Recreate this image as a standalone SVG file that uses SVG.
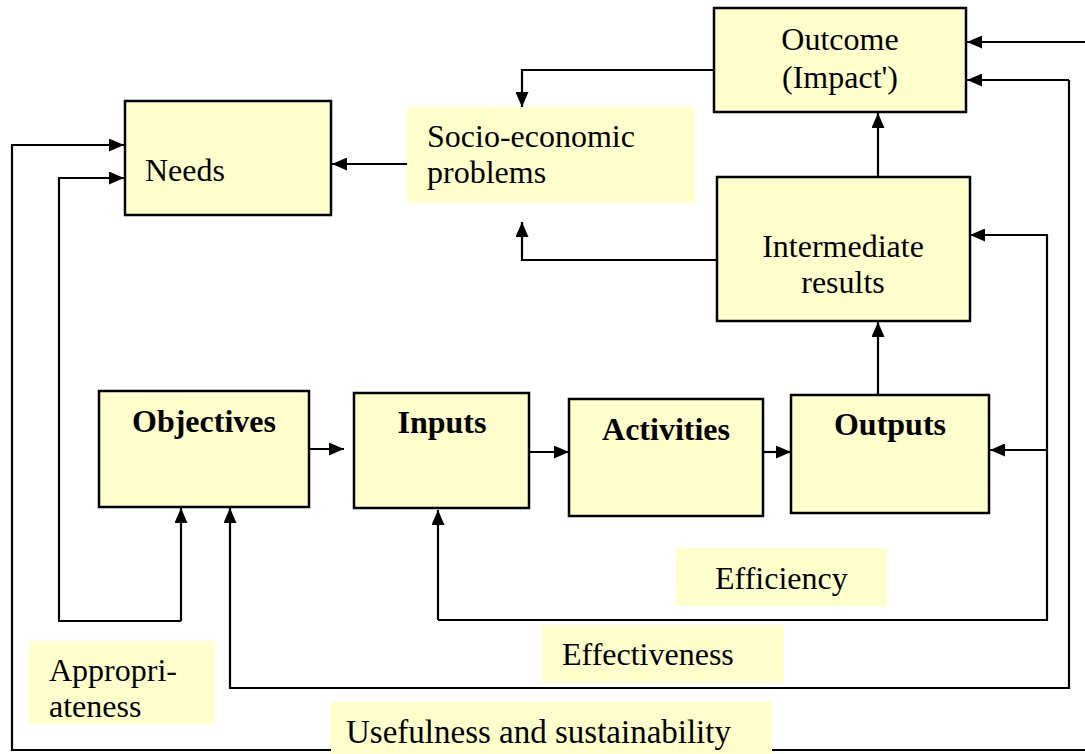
<svg xmlns="http://www.w3.org/2000/svg" width="1085" height="754" viewBox="0 0 1085 754">
  <style>
    .box { fill: #FFFFCC; stroke: #000; stroke-width: 2.5; }
    .label { fill: #FFFFCC; stroke: none; }
    .arrow { fill: none; stroke: #000; stroke-width: 2.2; marker-end: url(#head); }
    text { font-family: "Liberation Serif", "Times New Roman", Times, serif; font-size: 32px; fill: #000; }
    .bold { font-weight: bold; }
    .mid { text-anchor: middle; }
  </style>
  <defs>
    <marker id="head" markerUnits="userSpaceOnUse" markerWidth="15" markerHeight="13" refX="15" refY="6.5" orient="auto">
      <path d="M0,0 L15,6.5 L0,13 z" fill="#000"/>
    </marker>
  </defs>
  <rect width="1085" height="754" fill="#fff"/>

  <!-- connectors -->
  <g id="connectors">
    <!-- outer loop: usefulness and sustainability -->
    <path class="arrow" d="M1085,42 H967"/>
    <path class="arrow" d="M1085,750 H12 V145 H124"/>
    <!-- effectiveness (objectives) loop -->
    <path class="arrow" d="M1069,80 H967"/>
    <path class="arrow" d="M1069,80 V688 H230 V508"/>
    <!-- appropriateness loop -->
    <path class="arrow" d="M181,621 V508"/>
    <path class="arrow" d="M181,621 H59 V178 H124"/>
    <!-- efficiency loop -->
    <path class="arrow" d="M438,620 V510"/>
    <path class="arrow" d="M438,620 H1047 V235 H970"/>
    <path class="arrow" d="M1047,450 H990"/>
    <!-- upper chain -->
    <path class="arrow" d="M714,70 H522 V107"/>
    <path class="arrow" d="M717,260 H522 V222"/>
    <path class="arrow" d="M878,177 V113"/>
    <path class="arrow" d="M878,395 V322"/>
    <path class="arrow" d="M407,164 H332"/>
    <!-- lower chain -->
    <path class="arrow" d="M309,449 H344"/>
    <path class="arrow" d="M529,452 H569"/>
    <path class="arrow" d="M760,452 H791"/>
  </g>

  <g id="outcome">
    <rect class="box" x="714" y="8" width="252" height="104"/>
    <text class="mid" x="840" y="50">Outcome</text>
    <text class="mid" x="840" y="88">(Impact')</text>
  </g>
  <g id="needs">
    <rect class="box" x="125" y="101" width="206" height="114"/>
    <text x="145" y="181">Needs</text>
  </g>
  <g id="socio-economic">
    <rect class="label" x="407" y="107" width="288" height="96"/>
    <text x="427" y="147">Socio-economic</text>
    <text x="427" y="183">problems</text>
  </g>
  <g id="intermediate">
    <rect class="box" x="717" y="177" width="253" height="144"/>
    <text class="mid" x="843" y="257">Intermediate</text>
    <text class="mid" x="843" y="293">results</text>
  </g>
  <g id="objectives">
    <rect class="box" x="99" y="391" width="210" height="116"/>
    <text class="mid bold" x="204" y="432">Objectives</text>
  </g>
  <g id="inputs">
    <rect class="box" x="354" y="393" width="175" height="115"/>
    <text class="mid bold" x="442" y="433">Inputs</text>
  </g>
  <g id="activities">
    <rect class="box" x="569" y="399" width="194" height="117"/>
    <text class="mid bold" x="666" y="440">Activities</text>
  </g>
  <g id="outputs">
    <rect class="box" x="791" y="395" width="198" height="118"/>
    <text class="mid bold" x="890" y="435">Outputs</text>
  </g>

  <g id="efficiency">
    <rect class="label" x="676" y="548" width="211" height="58"/>
    <text x="715" y="589">Efficiency</text>
  </g>
  <g id="effectiveness">
    <rect class="label" x="542" y="625" width="242" height="58"/>
    <text x="562" y="665">Effectiveness</text>
  </g>
  <g id="appropriateness">
    <rect class="label" x="29" y="641" width="186" height="83"/>
    <text x="49" y="681">Appropri-</text>
    <text x="49" y="717">ateness</text>
  </g>
  <g id="usefulness">
    <rect class="label" x="331" y="702" width="441" height="52"/>
    <text x="346" y="743" style="font-size:33px">Usefulness and sustainability</text>
  </g>
</svg>
